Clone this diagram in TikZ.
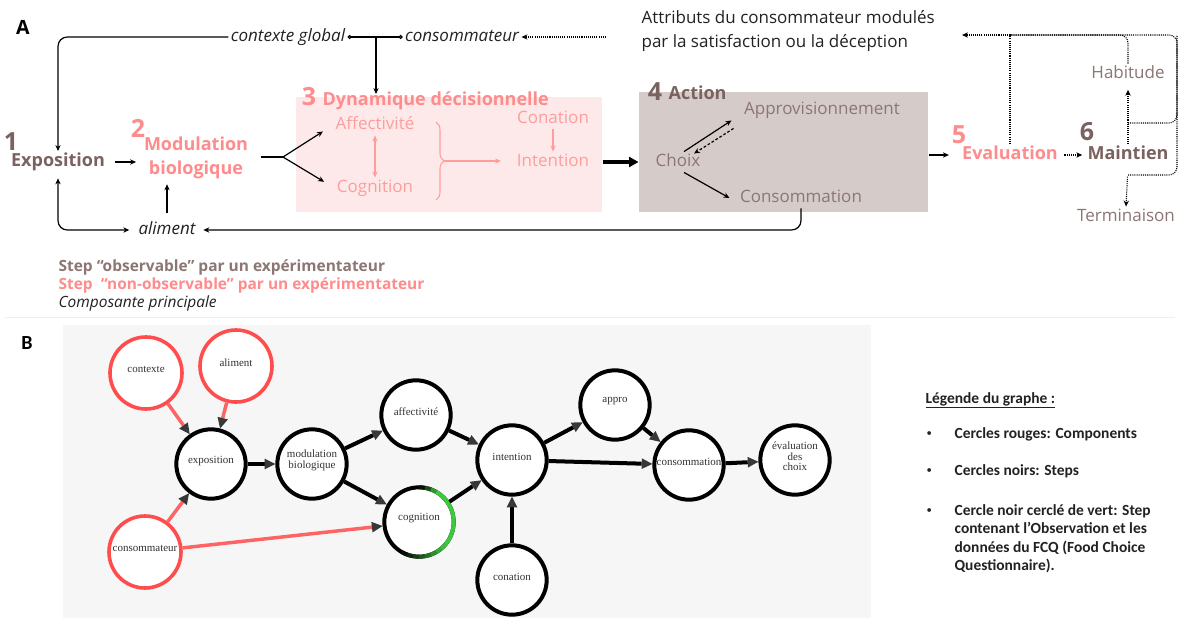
\documentclass[tikz,border=0pt]{standalone}
\usepackage{fontspec}
\setmainfont{Open Sans}
\newfontfamily\serifB{Liberation Serif}
\newfontfamily\carl{Carlito}
\usetikzlibrary{arrows.meta,calc,decorations.pathreplacing}
\definecolor{brn}{HTML}{7A625F}
\definecolor{brnl}{HTML}{8C7673}
\definecolor{pnk}{HTML}{FF8C8C}
\definecolor{pnkl}{HTML}{FF9D9D}
\definecolor{pinkbg}{HTML}{FDE9E9}
\definecolor{graybg}{HTML}{D5CCC9}
\definecolor{ink}{HTML}{222222}
\definecolor{redc}{HTML}{FF4D4D}
\definecolor{rededge}{HTML}{FF6464}
\definecolor{bgB}{HTML}{F6F6F6}
\definecolor{tipc}{HTML}{383838}
\definecolor{grn}{HTML}{3DC93D}
\definecolor{lbl}{HTML}{333333}
\newcommand\fReg{\fontsize{12.75pt}{18pt}\selectfont}
\newcommand\fBold{\fontsize{13.5pt}{18pt}\selectfont\bfseries}
\newcommand\fNum{\fontsize{18.75pt}{20pt}\selectfont\bfseries}
\newcommand\fLegA{\fontsize{11.6pt}{13.5pt}\selectfont}
\newcommand\fLegB{\fontsize{11.6pt}{13.9pt}\selectfont\bfseries}
\newcommand\fGraph{\fontsize{8.25pt}{7.9pt}\selectfont}
\begin{document}
\begin{tikzpicture}[x=0.75pt,y=-0.75pt,line width=0.9pt,
  >={Stealth[length=4.5pt,width=4pt]},
  treg/.style={inner sep=1.5pt,font=\fReg,text height=9.2pt,text depth=2.6pt},
  tital/.style={treg,font=\fReg\itshape,text=ink},
  tbold/.style={inner sep=1.5pt,font=\fBold,text height=9.8pt,text depth=2.8pt},
  tnum/.style={inner sep=0pt,font=\fNum,anchor=base},
  dotl/.style={line width=0.8pt,dash pattern=on 0.8pt off 0.8pt},
  glab/.style={font=\serifB\fGraph,text=lbl,align=center,inner sep=0pt,yshift=2.6pt},
  gn/.style={circle,draw=black,line width=3pt,fill=white,minimum size=52pt,inner sep=0pt,label={[glab]center:#1}},
  rn/.style={gn=#1,draw=redc,line width=2.7pt,minimum size=54pt},
  ge/.style={line width=3pt,-{Triangle[length=8pt,width=8pt,color=tipc,line width=0pt]}},
  re/.style={ge,draw=rededge,line width=2.6pt},
  legB/.style={font=\carl\fLegB,text=ink,inner sep=0pt,anchor=base west},
  bulB/.style={font=\carl\fontsize{8pt}{9pt}\selectfont,text=ink,inner sep=0pt,anchor=base west,yshift=1.5pt},
  legA/.style={font=\fLegA,inner sep=0pt,anchor=base west},
]
\fill[white] (0,0) rectangle (1179,621);
\useasboundingbox (0,0) rectangle (1179,621);
\draw[black!6,line width=0.6pt] (5,317) -- (1175,317);

% ================= PANEL A =================
\node[font=\fontsize{14.7pt}{16pt}\selectfont\bfseries,inner sep=0pt] (labA) at (23,27) {A};

\node[fill=pinkbg,minimum width=229.5pt,minimum height=86.25pt,inner sep=0pt] (pbox) at (449,154.5) {};
\node[fill=graybg,minimum width=216.75pt,minimum height=90pt,inner sep=0pt] (gbox) at (783.5,152) {};

% top texts
\node[tital] (ctx) at (288,37) {contexte global};
\node[tital] (cons) at (462,37) {consommateur};
\node[legA,font=\fReg,text=ink] (attr1) at (641,23) {Attributs du consommateur modulés};
\node[legA,font=\fReg,text=ink] (attr2) at (641,47) {par la satisfaction ou la déception};

% step 1
\node[tnum,text=brn] (n1) at (11,150) {1};
\node[tbold,text=brn] (expo) at (58,162) {Exposition};
% step 2
\node[tnum,text=pnk] (n2) at (138,137) {2};
\node[font=\fBold,text=pnk,align=center,inner sep=1.5pt] (modul) at (196,158) {Modulation\\biologique};
% step 3
\node[tnum,text=pnk] (n3) at (309,105) {3};
\node[font=\fBold,text=pnk,inner sep=0pt,anchor=base west] (dyn) at (322,105) {Dynamique décisionnelle};
\node[treg,text=pnkl] (aff) at (375,125) {Affectivité};
\node[treg,text=pnkl] (cog) at (375,188) {Cognition};
\node[treg,text=pnkl] (conat) at (553,119) {Conation};
\node[treg,text=pnkl] (intent) at (553,162) {Intention};
% step 4
\node[tnum,text=brn] (n4) at (655,100) {4};
\node[font=\fBold,text=brn,inner sep=0pt,anchor=base west] (act) at (668,99) {Action};
\node[treg,text=brnl] (choix) at (678,162) {Choix};
\node[treg,text=brnl] (appro) at (822,110) {Approvisionnement};
\node[treg,text=brnl] (cons2) at (801,198) {Consommation};
% steps 5-6
\node[tnum,text=pnk] (n5) at (959,143) {5};
\node[tbold,text=pnk] (eval) at (1010,155) {Evaluation};
\node[tnum,text=brn] (n6) at (1087,140) {6};
\node[tbold,text=brn] (maint) at (1128,155) {Maintien};
\node[treg,text=brnl] (hab) at (1128,74) {Habitude};
\node[treg,text=brnl] (term) at (1126,217) {Terminaison};
% aliment
\node[tital] (alim) at (167,230) {aliment};

% connectors panel A
\draw[{Circle[open,length=3pt]}-{Circle[open,length=3pt]}] (ctx.east) -- (cons.west);
\coordinate (tj) at (376,37);
\coordinate (dyntop) at (376,94);
\draw[->] (tj) -- (dyntop);
\coordinate (dotL) at (606,37);
\draw[dotl,->] (dotL) -- (cons.east);
\draw[->,rounded corners=7pt] (ctx.west) -| (expo.north);
\draw[<->,rounded corners=7pt,shorten <=4pt,shorten >=5pt] (expo.south) |- (alim.west);
\draw[->,shorten <=6pt,shorten >=4pt] (expo.east) -- (modul.west |- expo.east);
\draw[->,shorten <=5pt,shorten >=2pt] (alim.north) -- (alim.north |- modul.south);
\coordinate (br) at (283,157);
\draw[shorten <=8pt] (modul.east |- br) -- (br);
\draw[->,shorten >=9pt] (br) -- (aff.west);
\draw[->,shorten >=9pt] (br) -- (cog.west);
\draw[pnkl,<->] (aff.south) -- (cog.north);
\draw[pnkl,->] (conat.south) -- (intent.north);
\draw[pnkl,line width=0.8pt,decorate,decoration={brace,amplitude=6pt}] (436,122) -- (436,200);
\coordinate (brtip) at (444,161);
\draw[pnkl,->,shorten >=10pt] (brtip) -- (intent.west |- brtip);
\draw[line width=2.4pt,-{Triangle[length=7pt,width=8pt,line width=0pt]}] (pbox.east |- intent) -- (gbox.west |- intent);
\draw[->] (choix.60) -- ($(appro.south west)+(-10,0)$);
\draw[->,dash pattern=on 2pt off 1.5pt] ($(appro.south west)+(-8,8)$) -- ($(choix.60)+(10,2)$);
\draw[->] (choix.-60) -- ($(cons2.west)+(-8,0)$);
\draw[->,rounded corners=7pt,shorten >=4pt] (cons2.south) |- (alim.east);
\draw[->,shorten >=8pt] (gbox.east |- eval.west) -- (eval.west);
\draw[dotl,->,shorten <=3pt,shorten >=2pt] (eval.east) -- (maint.west);
\coordinate (tl) at (962,35);
\coordinate (tr) at (1177,35);
\coordinate (j1) at (1128,123);
\coordinate (j2) at (1128,175);
\draw[dotl,->] (eval.north) |- (tl);
\draw[dotl,rounded corners=6pt] (j1) -| (tr) -- (eval.north |- tr);
\draw[dotl,rounded corners=6pt] (j2) -| (tr);
\draw[dotl,->,shorten >=4pt] (maint.north) -- (hab.south);
\draw[dotl,rounded corners=6pt] (hab.north) |- (eval.north |- tr);
\draw[dotl,->,shorten <=8pt] (maint.south) -- (term.north);

% legend A
\node[legA,font=\fLegA\bfseries,text=brnl] (leg1) at (58,271) {Step “observable” par un expérimentateur};
\node[legA,font=\fLegA\bfseries,text=pnk] (leg2) at (58,289) {Step~ “non-observable” par un expérimentateur};
\node[legA,font=\fLegA\itshape,text=ink] (leg3) at (58,307) {Composante principale};

% ================= PANEL B =================
\node[font=\carl\fontsize{15pt}{16pt}\selectfont\bfseries,inner sep=0pt] (labB) at (27,343) {B};
\fill[bgB] (63,325) rectangle (871,618);

\node[rn={contexte}] (gctx) at (146,373) {};
\node[rn={aliment}] (galim) at (236,366) {};
\node[rn={consommateur}] (gcons) at (145,552) {};
\node[gn={exposition}] (gexpo) at (211,464) {};
\node[gn={modulation\\biologique}] (gmod) at (312,464) {};
\node[gn={affectivité}] (gaff) at (416,415) {};
\node[gn={cognition}] (gcog) at (419,522) {};
\node[gn={intention}] (gint) at (512,460) {};
\node[gn={conation}] (gcon) at (512,580) {};
\node[gn={appro}] (gapp) at (615,405) {};
\node[gn={consommation}] (gcsm) at (689,465) {};
\node[gn={évaluation\\des\\choix}] (geval) at (795,460) {};

\foreach \a/\p in {90/10,80/40,70/75,60/100,50/100,40/100,30/100,20/100,10/100,0/100,-10/100,-20/100,-30/100,-40/95,-50/85,-60/72,-70/58,-80/45,-90/32,-100/20,-110/8}
  \draw[grn!\p!black,line width=3pt] ([shift={(\a:26pt)}]gcog.center) arc[start angle=\a,delta angle=-10.6,radius=26pt];

\draw[re] (gctx) -- (gexpo);
\draw[re] (galim) -- (gexpo);
\draw[re] (gcons) -- (gexpo);
\draw[re] (gcons) -- (gcog);
\draw[ge] (gexpo) -- (gmod);
\draw[ge] (gmod) -- (gaff);
\draw[ge] (gmod) -- (gcog);
\draw[ge] (gaff) -- (gint);
\draw[ge] (gcog) -- (gint);
\draw[ge] (gcon) -- (gint);
\draw[ge] (gint) -- (gapp);
\draw[ge] (gint) -- (gcsm);
\draw[ge] (gapp) -- (gcsm);
\draw[ge] (gcsm) -- (geval);

% legend B
\node[legB] (lgT) at (925,403) {\underline{Légende du graphe :}};
\node[bulB] (bu1) at (926,438) {•};
\node[legB] (lg1) at (954,438) {Cercles rouges: Components};
\node[bulB] (bu2) at (926,475) {•};
\node[legB] (lg2) at (954,475) {Cercles noirs: Steps};
\node[bulB] (bu3) at (926,515) {•};
\node[legB] (lg3a) at (954,515) {Cercle noir cerclé de vert: Step};
\node[legB] (lg3b) at (954,533) {contenant l’Observation et les};
\node[legB] (lg3c) at (954,552) {données du FCQ (Food Choice};
\node[legB] (lg3d) at (954,570) {Questionnaire).};
\end{tikzpicture}
\end{document}
